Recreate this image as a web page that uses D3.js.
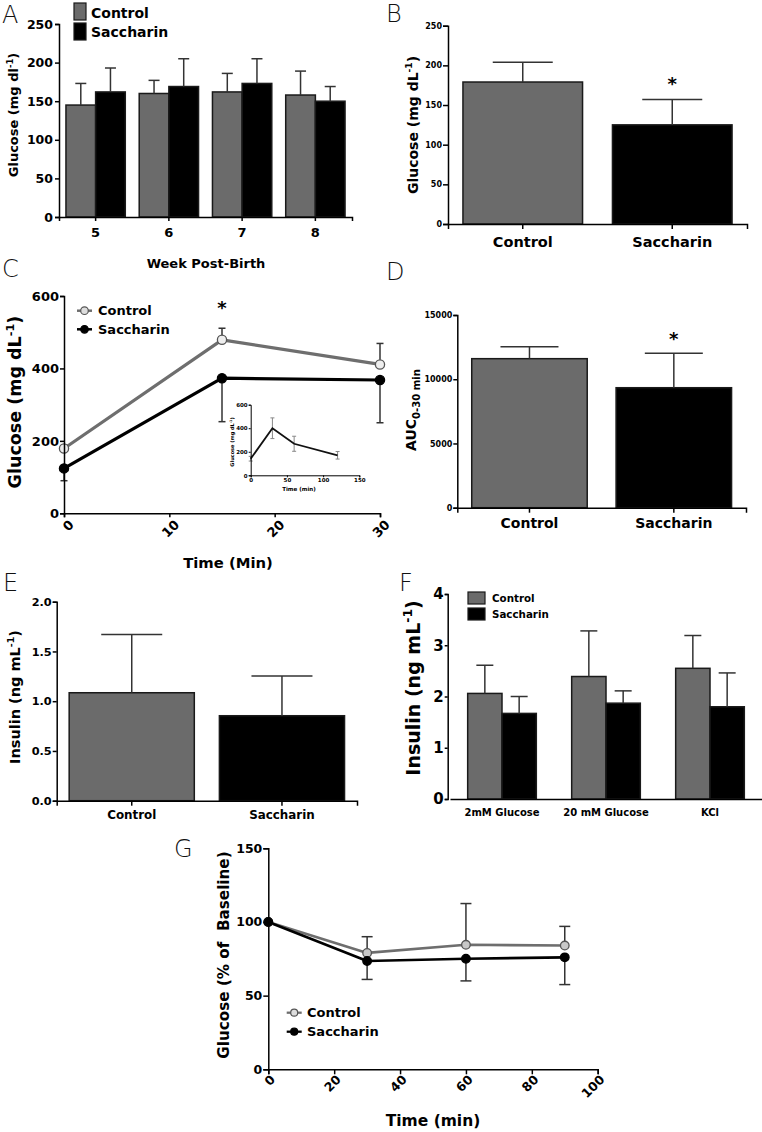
<!DOCTYPE html>
<html><head><meta charset="utf-8">
<script src="https://cdn.jsdelivr.net/npm/d3@7"></script>
<style>body{margin:0;background:#fff}</style>
</head><body><svg id="c" width="762" height="1132"></svg>
<script>
// ---------------- DATA ----------------
const groupNames = ["Control", "Saccharin"];

// Panel A
const weeks = ["5", "6", "7", "8"];
const weekControl = [145, 160, 162, 158];
const weekControlErr = [28, 17, 24, 31];
const weekSacch = [162, 169, 173, 150];
const weekSacchErr = [31, 36, 32, 19];
const ticksA = [0, 50, 100, 150, 200, 250];

// Panel B
const fastGlucose = [179, 125];
const fastGlucoseErr = [25, 32];
const ticksB = [0, 50, 100, 150, 200, 250];

// Panel C
const ogttTime = [0, 15, 30];
const ogttControl = [179, 479, 411];
const ogttControlErr = [0, 32, 58];
const ogttSacch = [124, 373, 368];
const ogttSacchErr = [34, 120, 118];
const ticksCy = [0, 200, 400, 600];
const ticksCx = [0, 10, 20, 30];
// Panel C inset
const insetTime = [0, 30, 60, 120];
const insetGlucose = [141, 400, 268, 170];
const insetErr = [20, 88, 64, 32];
const ticksInsetY = [0, 200, 400, 600];
const ticksInsetX = [0, 50, 100, 150];

// Panel D
const aucVals = [11600, 9340];
const aucErr = [930, 2680];
const ticksD = [0, 5000, 10000, 15000];

// Panel E
const insulinVals = [1.085, 0.854];
const insulinErr = [0.585, 0.40];
const ticksE = [0, 0.5, 1.0, 1.5, 2.0];

// Panel F
const isletCats = ["2mM Glucose", "20 mM Glucose", "KCl"];
const isletControl = [2.06, 2.39, 2.55];
const isletControlErr = [0.55, 0.89, 0.64];
const isletSacch = [1.67, 1.87, 1.80];
const isletSacchErr = [0.33, 0.24, 0.66];
const ticksF = [0, 1, 2, 3, 4];

// Panel G
const ittTime = [0, 30, 60, 90];
const ittControl = [100, 79, 84.5, 84];
const ittControlErr = [0, 11, 28, 13];
const ittSacch = [100, 73.5, 75, 76];
const ittSacchErr = [0, 12.5, 15, 18.5];
const ticksGy = [0, 50, 100, 150];
const ticksGx = [0, 20, 40, 60, 80, 100];

// ---------------- STYLE ----------------
const FONT = "DejaVu Sans";
const CTRL = "#6b6b6b";
const SACC = "#000000";
const BAR_STROKE = "#1a1a1a";
const ERR = "#333333";
const svg = d3.select("#c");

function styleAxis(g, fs, sw) {
  g.selectAll("path.domain").attr("stroke", "#000").attr("stroke-width", sw || 1.5);
  g.selectAll(".tick line").attr("stroke", "#000").attr("stroke-width", sw || 1.5);
  g.selectAll(".tick text").attr("font-family", FONT).attr("font-weight", "bold")
    .attr("font-size", fs).attr("fill", "#000");
}
function yAxis(x0, y, ticks, fmt, fs, tlen, pad, sw) {
  const g = svg.append("g").attr("transform", `translate(${x0},0)`)
    .call(d3.axisLeft(y).tickValues(ticks).tickFormat(fmt).tickSizeOuter(0)
      .tickSize(tlen).tickPadding(pad));
  styleAxis(g, fs, sw);
  return g;
}
function xAxisBand(y0, x, fs, tlen, baseOff) {
  const g = svg.append("g").attr("transform", `translate(0,${y0})`)
    .call(d3.axisBottom(x).tickSizeOuter(0).tickSize(tlen));
  styleAxis(g, fs);
  g.selectAll(".tick text").attr("y", baseOff).attr("dy", 0);
  return g;
}
function xAxisRot(y0, x, ticks, fs, tlen, dx, dy, sw) {
  const g = svg.append("g").attr("transform", `translate(0,${y0})`)
    .call(d3.axisBottom(x).tickValues(ticks).tickSizeOuter(0).tickSize(tlen));
  styleAxis(g, fs, sw);
  g.selectAll(".tick text").attr("y", 0).attr("x", 0).attr("dy", "0.35em")
    .attr("text-anchor", "end").attr("transform", `translate(${dx},${dy}) rotate(-45)`);
  return g;
}
// parts: [{t, s:'sup'|'sub'}]
function label(x, y, parts, fs, rotate, anchor) {
  const t = svg.append("text")
    .attr("transform", `translate(${x},${y})${rotate ? " rotate(-90)" : ""}`)
    .attr("text-anchor", anchor || "middle")
    .attr("font-family", FONT).attr("font-weight", "bold").attr("font-size", fs).attr("fill", "#000");
  let cur = 0;
  parts.forEach(p => {
    let shift = 0, size = fs;
    if (p.s === "sup") { shift = -fs * 0.42; size = fs * 0.65; }
    if (p.s === "sub") { shift = fs * 0.3; size = fs * 0.72; }
    t.append("tspan").attr("dy", shift - cur).attr("font-size", size).text(p.t);
    cur = shift;
  });
  return t;
}
function panelLetter(x, y, L) {
  svg.append("text").attr("x", x).attr("y", y).attr("font-family", "DejaVu Sans")
    .attr("font-weight", 200).attr("font-size", 24).attr("fill", "#111").text(L);
}
function errBar(cx, yv, ye, capW, color, sw) {
  svg.append("line").attr("x1", cx).attr("x2", cx).attr("y1", yv).attr("y2", ye)
    .attr("stroke", color || ERR).attr("stroke-width", sw || 1.5);
  svg.append("line").attr("x1", cx - capW / 2).attr("x2", cx + capW / 2).attr("y1", ye).attr("y2", ye)
    .attr("stroke", color || ERR).attr("stroke-width", sw || 1.5);
}
function asterisk(x, yc) {
  svg.append("text").attr("x", x).attr("y", yc + 10).attr("text-anchor", "middle")
    .attr("font-family", FONT).attr("font-weight", "bold").attr("font-size", 18).text("*");
}

// grouped bar chart helper
function groupedBars(cats, series, x, y, capW) {
  const xi = d3.scaleBand().domain(d3.range(series.length)).range([0, x.bandwidth()]);
  series.forEach((s, si) => {
    cats.forEach((c, i) => {
      const bx = x(c) + xi(si);
      svg.append("rect").attr("x", bx).attr("y", y(s.vals[i]))
        .attr("width", xi.bandwidth()).attr("height", y(0) - y(s.vals[i]))
        .attr("fill", s.fill).attr("stroke", BAR_STROKE).attr("stroke-width", 1.5);
      errBar(bx + xi.bandwidth() / 2, y(s.vals[i]), y(s.vals[i] + s.errs[i]), capW);
    });
  });
}
function singleBars(cats, vals, errs, fills, x, y, capW) {
  cats.forEach((c, i) => {
    svg.append("rect").attr("x", x(c)).attr("y", y(vals[i]))
      .attr("width", x.bandwidth()).attr("height", y(0) - y(vals[i]))
      .attr("fill", fills[i]).attr("stroke", BAR_STROKE).attr("stroke-width", 1.5);
    errBar(x(c) + x.bandwidth() / 2, y(vals[i]), y(vals[i] + errs[i]), capW);
  });
}
function swatchLegend(x, yTop, h, w, textX, fs, baseOffsets) {
  groupNames.forEach((n, i) => {
    svg.append("rect").attr("x", x).attr("y", yTop[i]).attr("width", w).attr("height", h)
      .attr("fill", i === 0 ? CTRL : SACC).attr("stroke", BAR_STROKE).attr("stroke-width", 1.2);
    label(textX, baseOffsets[i], [{ t: n }], fs, false, "start");
  });
}
function lineLegend(x1, x2, ys, textX, fs, r, lw) {
  groupNames.forEach((n, i) => {
    svg.append("line").attr("x1", x1).attr("x2", x2).attr("y1", ys[i]).attr("y2", ys[i])
      .attr("stroke", i === 0 ? "#6e6e6e" : "#000").attr("stroke-width", lw);
    svg.append("circle").attr("cx", (x1 + x2) / 2).attr("cy", ys[i]).attr("r", r)
      .attr("fill", i === 0 ? "#ddd" : "#000").attr("stroke", i === 0 ? "#555" : "#000").attr("stroke-width", 1.2);
    label(textX, ys[i] + fs * 0.36, [{ t: n }], fs, false, "start");
  });
}
function linePanel(times, series, x, y, lw, r, capW) {
  series.forEach((s, si) => {
    const line = d3.line().x((d, i) => x(times[i])).y(d => y(d));
    svg.append("path").datum(s.vals).attr("d", line).attr("fill", "none")
      .attr("stroke", s.color).attr("stroke-width", lw).attr("stroke-linejoin", "round");
  });
  series.forEach(s => {
    times.forEach((t, i) => {
      if (s.errs[i] > 0) errBar(x(t), y(s.vals[i]), y(s.vals[i] + s.dir * s.errs[i]), capW);
    });
  });
  series.forEach(s => {
    times.forEach((t, i) => {
      svg.append("circle").attr("cx", x(t)).attr("cy", y(s.vals[i])).attr("r", r)
        .attr("fill", s.mfill).attr("stroke", s.mstroke).attr("stroke-width", 1.3);
    });
  });
}

// ---------------- PANEL A ----------------
{
  const y = d3.scaleLinear().domain([0, 250]).range([217, 24]);
  const x = d3.scaleBand().domain(weeks).range([59, 352]).paddingInner(0.19).paddingOuter(0.095);
  groupedBars(weeks, [
    { vals: weekControl, errs: weekControlErr, fill: CTRL },
    { vals: weekSacch, errs: weekSacchErr, fill: SACC }], x, y, 11);
  yAxis(59, y, ticksA, d3.format("d"), 12.5, 4, 2);
  xAxisBand(217, x, 13, 4, 20);
  label(206, 268, [{ t: "Week Post-Birth" }], 13);
  label(18, 115, [{ t: "Glucose (mg dl" }, { t: "-1", s: "sup" }, { t: ")" }], 13, true);
  swatchLegend(74, [3, 23], 17, 12, 91, 14, [18, 37]);
  panelLetter(2, 23, "A");
}

// ---------------- PANEL B ----------------
{
  const y = d3.scaleLinear().domain([0, 250]).range([224, 25.7]);
  const x = d3.scaleBand().domain(groupNames).range([448, 747]).paddingInner(0.2).paddingOuter(0.1);
  singleBars(groupNames, fastGlucose, fastGlucoseErr, [CTRL, SACC], x, y, 60);
  yAxis(448, y, ticksB, d3.format("d"), 8, 5, 1);
  xAxisBand(224, x, 14.5, 5, 23);
  label(418, 125, [{ t: "Glucose (mg dL" }, { t: "-1", s: "sup" }, { t: ")" }], 14, true);
  asterisk(x("Saccharin") + x.bandwidth() / 2, 80);
  panelLetter(386, 22, "B");
}

// ---------------- PANEL C ----------------
{
  const x = d3.scaleLinear().domain([0, 30]).range([64, 380]);
  const y = d3.scaleLinear().domain([0, 600]).range([513.3, 296]);
  linePanel(ogttTime, [
    { vals: ogttControl, errs: ogttControlErr, dir: 1, color: "#6e6e6e", mfill: "#eee", mstroke: "#555" },
    { vals: ogttSacch, errs: ogttSacchErr, dir: -1, color: "#000", mfill: "#000", mstroke: "#000" }
  ], x, y, 3.2, 4.6, 7);
  yAxis(64, y, ticksCy, d3.format("d"), 13, 4, 1);
  xAxisRot(513.3, x, ticksCx, 13, 4, 7, 9);
  label(228, 568, [{ t: "Time (Min)" }], 14.8);
  label(21, 402, [{ t: "Glucose (mg dL" }, { t: "-1", s: "sup" }, { t: ")" }], 17.5, true);
  lineLegend(77, 92, [310.7, 329.3], 98, 13, 3.8, 2.5);
  asterisk(x(15), 304);
  panelLetter(2, 277, "C");

  // inset
  const xi = d3.scaleLinear().domain([0, 150]).range([250.7, 359.3]);
  const yi = d3.scaleLinear().domain([0, 600]).range([475.3, 404.7]);
  insetTime.forEach((t, i) => {
    const cx = xi(t);
    svg.append("line").attr("x1", cx).attr("x2", cx).attr("y1", yi(insetGlucose[i] - insetErr[i]))
      .attr("y2", yi(insetGlucose[i] + insetErr[i])).attr("stroke", "#888").attr("stroke-width", 1);
    [-1, 1].forEach(d => svg.append("line").attr("x1", cx - 2).attr("x2", cx + 2)
      .attr("y1", yi(insetGlucose[i] + d * insetErr[i])).attr("y2", yi(insetGlucose[i] + d * insetErr[i]))
      .attr("stroke", "#888").attr("stroke-width", 1));
  });
  svg.append("path").datum(insetGlucose)
    .attr("d", d3.line().x((d, i) => xi(insetTime[i])).y(d => yi(d)))
    .attr("fill", "none").attr("stroke", "#111").attr("stroke-width", 1.8);
  yAxis(250.7, yi, ticksInsetY, d3.format("d"), 5.5, 2, 1, 1);
  const gx = svg.append("g").attr("transform", "translate(0,475.3)")
    .call(d3.axisBottom(xi).tickValues(ticksInsetX).tickSizeOuter(0).tickSize(2).tickPadding(1));
  styleAxis(gx, 5.5, 1);
  label(299, 491, [{ t: "Time (min)" }], 5.5);
  label(234, 442, [{ t: "Glucose (mg dL" }, { t: "-1", s: "sup" }, { t: ")" }], 5, true);
}

// ---------------- PANEL D ----------------
{
  const y = d3.scaleLinear().domain([0, 15000]).range([507.7, 315]);
  const x = d3.scaleBand().domain(groupNames).range([457.3, 746]).paddingInner(0.2).paddingOuter(0.1);
  singleBars(groupNames, aucVals, aucErr, [CTRL, SACC], x, y, 58);
  yAxis(457.3, y, ticksD, d3.format("d"), 8, 4, 1);
  xAxisBand(507.7, x, 14, 5, 20);
  label(416, 410, [{ t: "AUC" }, { t: "0-30 min", s: "sub" }], 14, true);
  asterisk(x("Saccharin") + x.bandwidth() / 2, 335);
  panelLetter(386, 280, "D");
}

// ---------------- PANEL E ----------------
{
  const y = d3.scaleLinear().domain([0, 2]).range([800.7, 601.7]);
  const x = d3.scaleBand().domain(groupNames).range([56.7, 357]).paddingInner(0.167).paddingOuter(0.083);
  singleBars(groupNames, insulinVals, insulinErr, [CTRL, SACC], x, y, 61);
  yAxis(56.7, y, ticksE, d3.format(".1f"), 11.3, 4, 1);
  xAxisBand(800.7, x, 11.9, 5, 18.5);
  label(20, 697, [{ t: "Insulin (ng mL" }, { t: "-1", s: "sup" }, { t: ")" }], 14.5, true);
  panelLetter(3, 591, "E");
}

// ---------------- PANEL F ----------------
{
  const y = d3.scaleLinear().domain([0, 4]).range([799, 594]);
  const x = d3.scaleBand().domain(isletCats).range([450, 762]).paddingInner(0.34).paddingOuter(0.17);
  groupedBars(isletCats, [
    { vals: isletControl, errs: isletControlErr, fill: CTRL },
    { vals: isletSacch, errs: isletSacchErr, fill: SACC }], x, y, 17);
  yAxis(447.7, y, ticksF, d3.format("d"), 15, 3, 1);
  xAxisBand(799, x, 10, 0, 17);
  label(420, 688, [{ t: "Insulin (ng mL" }, { t: "-1", s: "sup" }, { t: ")" }], 19, true);
  swatchLegend(468, [592, 608], 12, 17, 492, 10.3, [602, 618]);
  panelLetter(399, 591, "F");
}

// ---------------- PANEL G ----------------
{
  const x = d3.scaleLinear().domain([0, 100]).range([268.3, 597.7]);
  const y = d3.scaleLinear().domain([0, 150]).range([1069.3, 848.3]);
  linePanel(ittTime, [
    { vals: ittControl, errs: ittControlErr, dir: 1, color: "#6e6e6e", mfill: "#c8c8c8", mstroke: "#555" },
    { vals: ittSacch, errs: ittSacchErr, dir: -1, color: "#000", mfill: "#000", mstroke: "#000" }
  ], x, y, 2.6, 4.3, 11);
  yAxis(268.3, y, ticksGy, d3.format("d"), 12.5, 5, 1);
  xAxisRot(1069.3, x, ticksGx, 12.5, 5, 4, 8);
  label(433, 1126, [{ t: "Time (min)" }], 15.5);
  label(229, 955, [{ t: "Glucose (% of\u00a0 Baseline)" }], 15.2, true);
  lineLegend(286.7, 301.7, [1012.7, 1031.7], 307, 13, 3.5, 2.3);
  panelLetter(174, 857, "G");
}
</script></body></html>
